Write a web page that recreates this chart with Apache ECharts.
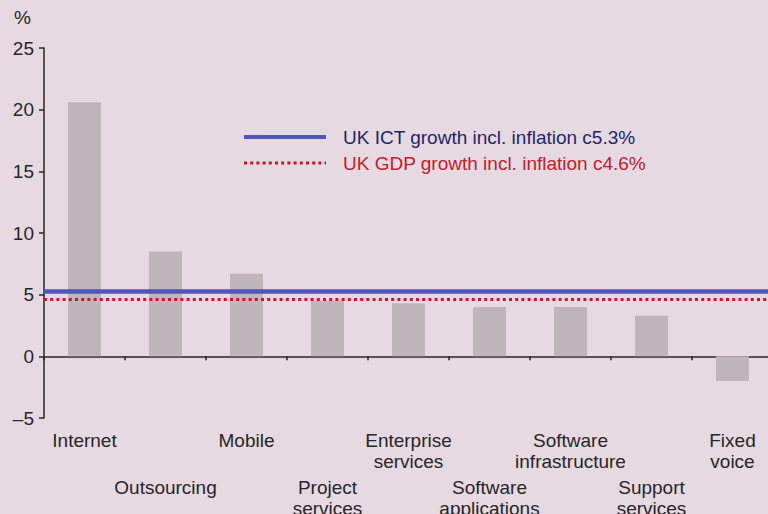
<!DOCTYPE html>
<html>
<head>
<meta charset="utf-8">
<title>UK ICT segment growth</title>
<script src="https://cdn.jsdelivr.net/npm/echarts@6/dist/echarts.min.js"></script>
<style>
  html, body { margin: 0; padding: 0; background: #e7d9e1; }
  #chart { width: 768px; height: 514px; }
</style>
</head>
<body>
<div id="chart"></div>
<script>
// Market segments along the x axis
const categories = [
  'Internet', 'Outsourcing', 'Mobile', 'Project\nservices', 'Enterprise\nservices',
  'Software\napplications', 'Software\ninfrastructure', 'Support\nservices', 'Fixed\nvoice'
];
// Growth per segment, %
const growth = [20.6, 8.5, 6.7, 4.5, 4.3, 4.0, 4.0, 3.3, -2.0];
// Reference growth rates, %
const ictGrowth = 5.3;
const gdpGrowth = 4.6;
const ictLabel = 'UK ICT growth incl. inflation c5.3%';
const gdpLabel = 'UK GDP growth incl. inflation c4.6%';
// Value axis range
const yMin = -5, yMax = 25, yStep = 5;

const FONT = '"Liberation Sans", Arial, Helvetica, sans-serif';
const INK = '#262626';
const BLUE = '#4f56b6';
const RED = '#c8162c';

const labelStyle = { fontSize: 19, lineHeight: 21, color: INK, fontFamily: FONT, interval: 0 };

const chart = echarts.init(document.getElementById('chart'), null, { renderer: 'svg' });

chart.setOption({
  backgroundColor: '#e7d9e1',
  animation: false,
  textStyle: { fontFamily: FONT },
  grid: { left: 44, top: 48, width: 729, height: 370, containLabel: false, outerBoundsMode: 'none' },
  xAxis: [
    {
      // main axis: zero line, ticks, and the upper row of labels
      type: 'category',
      data: categories,
      axisLine: { onZero: true, lineStyle: { color: INK, width: 1.5 } },
      axisTick: { show: true, length: 4, lineStyle: { color: INK, width: 1.5 } },
      axisLabel: Object.assign({}, labelStyle, {
        margin: 12,
        formatter: (v, i) => (i % 2 === 0 ? v : '')
      })
    },
    {
      // lower row of staggered labels
      type: 'category',
      data: categories,
      position: 'bottom',
      axisLine: { show: false, onZero: true },
      axisTick: { show: false },
      axisLabel: Object.assign({}, labelStyle, {
        margin: 59,
        formatter: (v, i) => (i % 2 === 1 ? v : '')
      })
    }
  ],
  yAxis: {
    type: 'value',
    min: yMin,
    max: yMax,
    interval: yStep,
    name: '%',
    nameLocation: 'end',
    nameGap: 21,
    nameTextStyle: { fontSize: 19, color: INK, align: 'right', padding: [0, 13, 0, 0] },
    axisLine: { show: true, lineStyle: { color: INK, width: 1.5 } },
    axisTick: { show: true, length: 5, lineStyle: { color: INK, width: 1.5 } },
    axisLabel: {
      fontSize: 19,
      color: INK,
      margin: 10,
      formatter: v => (v < 0 ? '\u2013' + Math.abs(v) : String(v))
    },
    splitLine: { show: false }
  },
  series: [
    {
      type: 'bar',
      data: growth,
      barWidth: 33,
      itemStyle: { color: '#c1b5bc' },
      silent: true,
      markLine: {
        silent: true,
        symbol: 'none',
        label: { show: false },
        data: [
          { yAxis: gdpGrowth, lineStyle: { color: RED, width: 3, type: [3, 3.2] } },
          { yAxis: ictGrowth, lineStyle: { color: BLUE, width: 4.5, type: 'solid' } }
        ]
      }
    }
  ],
  graphic: [
    { type: 'line', shape: { x1: 244, y1: 137, x2: 326, y2: 137 }, style: { stroke: BLUE, lineWidth: 4 } },
    { type: 'line', shape: { x1: 244, y1: 163, x2: 326, y2: 163 }, style: { stroke: RED, lineWidth: 3, lineDash: [3, 3.2] } },
    { type: 'text', x: 343, y: 137, style: { text: ictLabel, fill: '#1f2668', fontSize: 19, fontFamily: FONT, verticalAlign: 'middle' } },
    { type: 'text', x: 343, y: 163, style: { text: gdpLabel, fill: '#c0202c', fontSize: 19, fontFamily: FONT, verticalAlign: 'middle' } }
  ]
});
</script>
</body>
</html>
